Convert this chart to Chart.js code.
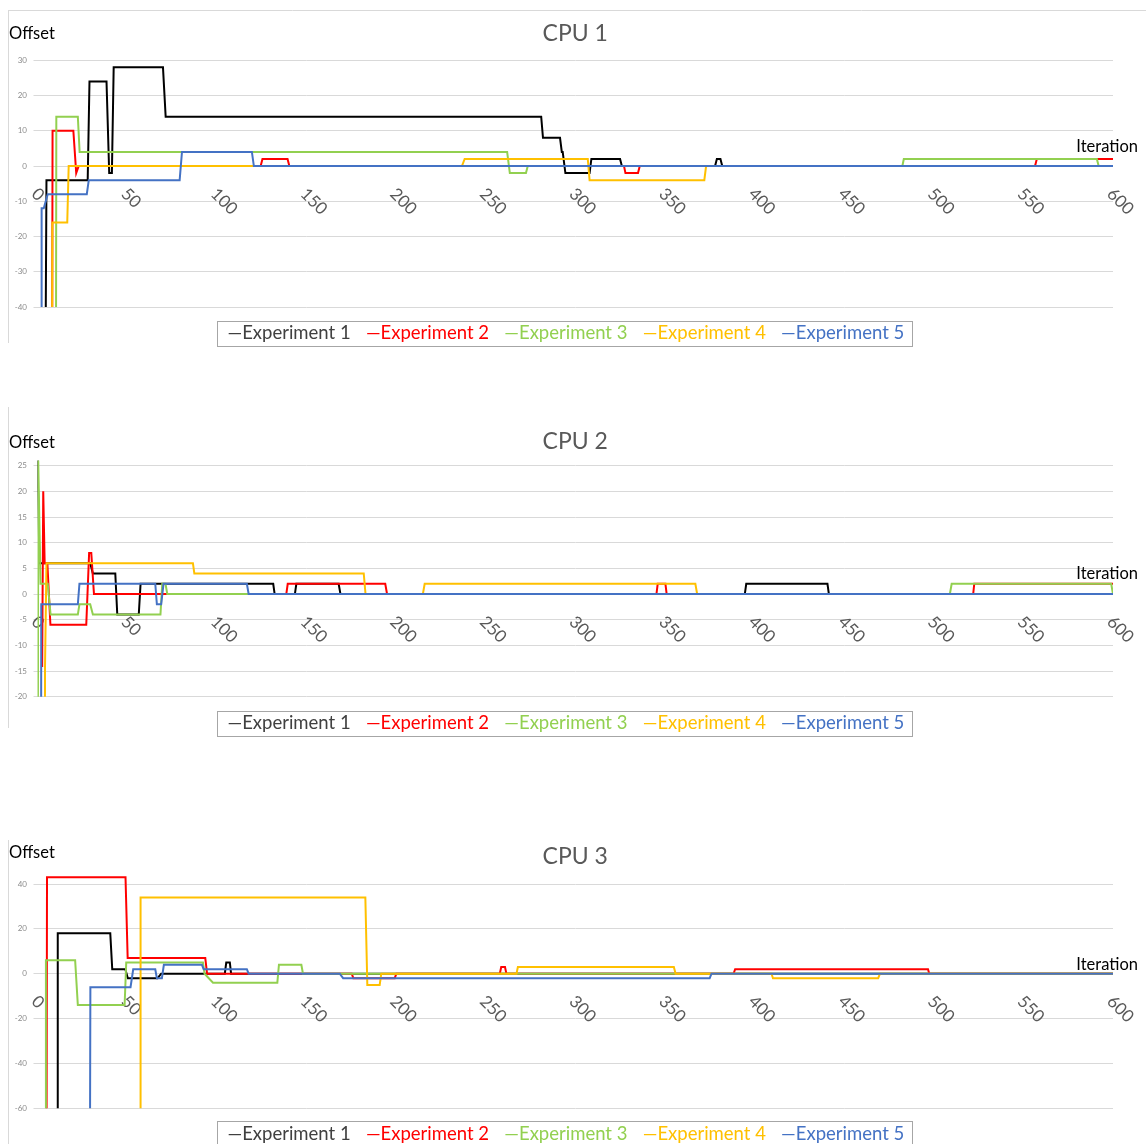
<!DOCTYPE html>
<html>
<head>
<meta charset="UTF-8">
<title>CPU Offset</title>
<script src="https://cdn.jsdelivr.net/npm/chart.js"></script>
<style>
  body { margin: 0; background: #fff; width: 1146px; height: 1144px; overflow: hidden; position: relative; }
  canvas { position: absolute; left: 0; }
</style>
</head>
<body>
<canvas id="cpu1" width="1146" height="362" style="top:0px"></canvas>
<canvas id="cpu2" width="1146" height="360" style="top:390px"></canvas>
<canvas id="cpu3" width="1146" height="354" style="top:800px"></canvas>
<script>
const seriesNames = ['Experiment 1', 'Experiment 2', 'Experiment 3', 'Experiment 4', 'Experiment 5'];
const xTickValues = [0, 50, 100, 150, 200, 250, 300, 350, 400, 450, 500, 550, 600];

// CPU 1
const cpu1Exp1 = [[4,-100],[5,-4],[28,-4],[29,24],[38.5,24],[40,-2],[41.5,-2],[42.5,28],[70,28],[71.5,14],[281,14],[282,8],[291.5,8],[292.5,4],[293,4],[294.5,-2],[308,-2],[309,2],[325,2],[326,0],[378,0],[379,2],[381,2],[382,0],[600,0]];
const cpu1Exp2 = [[8,-100],[8.4,10],[20,10],[21.6,-2],[23,0],[124.5,0],[125.5,2],[139.5,2],[140.5,0],[327.2,0],[328,-2],[335,-2],[336,0],[556.5,0],[557.5,2],[600,2]];
const cpu1Exp3 = [[10.2,-100],[10.5,14],[22.5,14],[23.5,4],[262,4],[263.5,-2],[272.5,-2],[273.5,0],[482.5,0],[483.3,2],[591,2],[592,0],[600,0]];
const cpu1Exp4 = [[8,-100],[8.3,-16],[16.6,-16],[17.4,0],[236.8,0],[238.3,2],[307,2],[308,-4],[372,-4],[373,0],[600,0]];
const cpu1Exp5 = [[2,-100],[2.3,-12],[3.5,-12],[5.7,-8],[27.5,-8],[28.6,-4],[79.3,-4],[80.6,4],[119.6,4],[120.7,0],[600,0]];

// CPU 2
const cpu2Exp1 = [[0,26],[1.1,6],[29.4,6],[30.9,4],[43.4,4],[44.5,-4],[56.5,-4],[57.5,2],[131.5,2],[132.3,0],[143.6,0],[144.4,2],[168,2],[169,0],[394.6,0],[395.4,2],[440.7,2],[441.5,0],[600,0]];
const cpu2Exp2 = [[2,-14],[2.6,-14],[3.2,20],[4,6],[5.5,6],[7.2,-6],[27.2,-6],[28.8,8],[30,8],[31.5,0],[138.8,0],[139.6,2],[194,2],[195,0],[345.3,0],[346,2],[350.3,2],[351,0],[522,0],[522.6,2],[600,2]];
const cpu2Exp3 = [[0,-100],[0.4,26],[1.7,2],[5.7,2],[7.3,-4],[22.5,-4],[23.4,-2],[29.4,-2],[30.9,-4],[68.6,-4],[69.6,2],[71.4,2],[72.4,0],[509,0],[510,2],[599,2],[600,0]];
const cpu2Exp4 = [[3.8,-100],[4.2,-14],[4.6,-14],[5,6],[86.7,6],[87.5,4],[182,4],[183,0],[215,0],[216,2],[367,2],[368,0],[600,0]];
const cpu2Exp5 = [[1.8,-100],[2.1,-2],[22.5,-2],[23.4,2],[65.7,2],[66.6,-2],[69,-2],[70.3,2],[116.8,2],[117.8,0],[600,0]];

// CPU 3
const cpu3Exp1 = [[11,-100],[11.3,18],[40.6,18],[41.7,2],[49,2],[50.4,-2],[67,-2],[69,0],[104.5,0],[105.3,5],[107.3,5],[108,0],[600,0]];
const cpu3Exp2 = [[5,-100],[5.3,43],[49.1,43],[50.3,7],[93.6,7],[94.6,0],[175.3,0],[176.2,-2],[199.3,-2],[200.2,0],[257.9,0],[258.7,3],[260.8,3],[261.6,0],[388.3,0],[389.2,2],[496.8,2],[497.5,0],[600,0]];
const cpu3Exp3 = [[4.4,-100],[4.7,6],[21,6],[22.5,-14],[48.6,-14],[49.5,5],[92.3,5],[93.2,0],[97.9,-4],[133.8,-4],[134.7,4],[147.2,4],[148.1,0],[600,0]];
const cpu3Exp4 = [[57.2,-100],[57.5,34],[182.9,34],[184,-5],[190.9,-5],[191.8,0],[267.2,0],[268,3],[355,3],[356,0],[409.5,0],[410.3,-2],[469,-2],[470,0],[600,0]];
const cpu3Exp5 = [[29.2,-100],[29.5,-6],[51.9,-6],[53.4,2],[65.7,2],[66.6,-2],[69.4,-2],[70.5,4],[91.7,4],[92.7,2],[116.8,2],[117.8,0],[168.6,0],[170.5,-2],[375,-2],[376,0],[600,0]];

const seriesColors = ['#000000', '#ff0000', '#92d050', '#ffc000', '#4472c4'];
const legendTextColors = ['#404040', '#ff0000', '#92d050', '#ffc000', '#4472c4'];

// Beschriftungen, Rahmen und Legendenrahmen
const decor = {
    id: 'decor',
    beforeDatasetsDraw(chart) {
        const {ctx, scales: {x, y}} = chart;
        const y0 = y.getPixelForValue(0);
        ctx.save();
        ctx.font = '17px Lato';
        ctx.fillStyle = '#595959';
        ctx.textAlign = 'left';
        ctx.textBaseline = 'middle';
        xTickValues.forEach(v => {
            ctx.save();
            ctx.translate(x.getPixelForValue(v) - 3, y0 + 25);
            ctx.rotate(Math.PI / 4);
            ctx.fillText(String(v), 0, 0);
            ctx.restore();
        });
        ctx.restore();
    },
    afterDraw(chart, args, o) {
        const {ctx, scales: {y}, legend} = chart;
        ctx.save();
        ctx.strokeStyle = '#d9d9d9';
        ctx.lineWidth = 1;
        ctx.beginPath();
        if (o.frameTop != null) {
            ctx.moveTo(8, o.frameTop + 0.5);
            ctx.lineTo(chart.width, o.frameTop + 0.5);
        }
        ctx.moveTo(8.5, o.frameLeft[0]);
        ctx.lineTo(8.5, o.frameLeft[1]);
        ctx.stroke();

        ctx.fillStyle = '#000';
        ctx.font = '16.5px Lato';
        ctx.textBaseline = 'middle';
        ctx.textAlign = 'left';
        ctx.fillText('Offset', 9, o.yTitleY);
        ctx.textAlign = 'right';
        ctx.fillText('Iteration', 1138, y.getPixelForValue(0) + o.xTitleDy);

        const boxes = legend.legendHitBoxes;
        const first = boxes[0], last = boxes[boxes.length - 1];
        const l = Math.round(first.left - 1);
        const r = Math.round(last.left + last.width + 8);
        const cy = first.top + first.height / 2;
        ctx.strokeStyle = '#a6a6a6';
        ctx.strokeRect(l + 0.5, Math.round(cy - 12.5) + 0.5, r - l, 25);
        ctx.restore();
    }
};

function makeChart(id, title, series, yMin, yMax, yStep, lay) {
    const datasets = series.map((s, i) => ({
        label: seriesNames[i],
        data: s.map(p => ({x: p[0], y: p[1]})),
        borderColor: seriesColors[i],
        borderWidth: 2,
        pointRadius: 0,
        tension: 0,
        fill: false,
        order: 5 - i,
        clip: {left: 0, top: 10, right: 0, bottom: 0}
    }));

    return new Chart(document.getElementById(id), {
        type: 'line',
        data: {datasets},
        plugins: [decor],
        options: {
            responsive: false,
            animation: false,
            layout: {padding: {left: 9.5, right: 33, top: 0, bottom: lay.bottomPad}},
            scales: {
                x: {
                    type: 'linear',
                    min: 0,
                    max: 600,
                    grid: {display: false},
                    border: {display: false},
                    ticks: {display: false},
                    afterFit: s => { s.height = lay.gap; }
                },
                y: {
                    min: yMin,
                    max: yMax,
                    grid: {color: '#d9d9d9', lineWidth: 1, tickLength: 4, drawTicks: true},
                    border: {display: false},
                    ticks: {stepSize: yStep, padding: 6.5, color: '#8c8c8c', font: {family: 'Lato', size: 8}},
                    afterFit: s => { s.width = 28; }
                }
            },
            plugins: {
                title: {
                    display: true,
                    text: title,
                    fullSize: false,
                    color: '#595959',
                    font: {family: 'Lato', size: 23, weight: 'normal', lineHeight: 1.2},
                    padding: {top: lay.titleTop, bottom: lay.titleBottom}
                },
                legend: {
                    position: 'bottom',
                    labels: {
                        boxWidth: 0,
                        boxHeight: 0,
                        padding: 6,
                        font: {family: 'Lato', size: 18.5},
                        generateLabels: c => c.data.datasets.map((ds, i) => ({
                            text: '\u2014' + ds.label,
                            fillStyle: 'rgba(0,0,0,0)',
                            strokeStyle: 'rgba(0,0,0,0)',
                            lineWidth: 0,
                            fontColor: legendTextColors[i],
                            hidden: false,
                            datasetIndex: i
                        }))
                    }
                },
                tooltip: {enabled: false},
                decor: {
                    frameTop: lay.frameTop,
                    frameLeft: lay.frameLeft,
                    yTitleY: lay.yTitleY,
                    xTitleDy: lay.xTitleDy
                }
            }
        }
    });
}

makeChart('cpu1', 'CPU 1', [cpu1Exp1, cpu1Exp2, cpu1Exp3, cpu1Exp4, cpu1Exp5], -40, 30, 10,
    {titleTop: 19.5, titleBottom: 13.2, gap: 10.75, bottomPad: 9.75, frameTop: 10, frameLeft: [10, 343], yTitleY: 33.3, xTitleDy: -19.3});
makeChart('cpu2', 'CPU 2', [cpu2Exp1, cpu2Exp2, cpu2Exp3, cpu2Exp4, cpu2Exp5], -20, 25, 5,
    {titleTop: 37.9, titleBottom: 10.2, gap: 11.05, bottomPad: 7.75, frameTop: null, frameLeft: [17, 338], yTitleY: 52.7, xTitleDy: -20});
makeChart('cpu3', 'CPU 3', [cpu3Exp1, cpu3Exp2, cpu3Exp3, cpu3Exp4, cpu3Exp5], -60, 40, 20,
    {titleTop: 42.9, titleBottom: 13.5, gap: 10.15, bottomPad: 1.05, frameTop: null, frameLeft: [40, 344], yTitleY: 52.3, xTitleDy: -9.3});
</script>
</body>
</html>
